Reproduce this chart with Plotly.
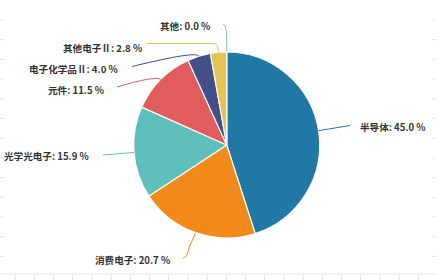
import math
import plotly.graph_objects as go

# Sector shares (%) of the electronics industry
categories = ["半导体", "消费电子", "光学光电子", "元件", "电子化学品Ⅱ", "其他电子Ⅱ", "其他"]
shares = [45.0, 20.7, 15.9, 11.5, 4.0, 2.8, 0.0]
colors = ["#2079a4", "#f28a1b", "#5fbfbd", "#e15c5c", "#434f88", "#e3c457", "#8fb9a8"]

W, H = 436, 280
CX, CY, R = 226.7, 145.0, 93.0

# leader-line end points (px) and label anchors (px) for each slice
line_ends = [(350, 125.5), (183, 258), (103, 155), (117, 87), (132, 66.5), (147, 43.5), (223, 24)]
elbow_extra = [9, 20, 10, 6, 6, 9, 19]
text_pos = [(358, 127.5, "left"), (172, 260, "right"), (91, 156, "right"), (106, 89.5, "right"),
            (120, 68.5, "right"), (144, 47.5, "right"), (212, 26, "right")]

fig = go.Figure()
fig.add_trace(go.Pie(
    labels=categories, values=shares, sort=False, direction="clockwise", rotation=0,
    marker=dict(colors=colors, line=dict(color="#fbfbf5", width=1.2)),
    textinfo="none", hoverinfo="label+percent", showlegend=False,
    domain=dict(x=[(CX - R) / W, (CX + R) / W], y=[(H - CY - R) / H, (H - CY + R) / H]),
))

shapes = []
annotations = []
total = sum(shares)
cum = 0.0
for i, (name, v) in enumerate(zip(categories, shares)):
    mid = (cum + v / 2) / total * 2 * math.pi
    cum += v
    sx, sy = CX + R * math.sin(mid), CY - R * math.cos(mid)
    re = R + elbow_extra[i]
    ex, ey = CX + re * math.sin(mid), CY - re * math.cos(mid)
    lx, ly = line_ends[i]
    if i == 5:
        # vertical rise, rounded turn, then horizontal run
        path = f"M{sx},{sy} L{ex},{ey + 4} Q{ex},{ly} {ex - 5},{ly} L{lx},{ly}"
    elif i == 6:
        path = f"M{sx},{sy} L{ex},{ey + 6} Q{ex},{ly + 1} {lx},{ly}"
    elif i == 1:
        path = f"M{sx},{sy} L{ex},{ey - 4} Q{ex - 2},{ly} {lx},{ly}"
    elif i in (3, 4):
        path = f"M{sx},{sy} Q{ex},{ey} {lx},{ly}"
    else:
        path = f"M{sx},{sy} L{ex},{ey} L{lx},{ly}"
    shapes.append(dict(type="path", path=path, xref="x", yref="y",
                       line=dict(color=colors[i], width=1)))
    tx, ty, anc = text_pos[i]
    annotations.append(dict(
        x=tx / W, y=1 - ty / H, xref="paper", yref="paper", xanchor=anc, yanchor="middle",
        text=f"{name}: {v:.1f} %", showarrow=False,
        font=dict(family="Noto Sans CJK SC", size=9.6, color="#333333", weight="bold"),
    ))

# faint sheet cell borders around the edges
grid = "#e4e4e4"
shapes.append(dict(type="line", x0=0, x1=W, y0=274, y1=274, xref="x", yref="y",
                   line=dict(color=grid, width=1)))
x = 15.0
while x < W:
    shapes.append(dict(type="line", x0=x, x1=x, y0=274, y1=280, xref="x", yref="y",
                       line=dict(color=grid, width=1)))
    x += 19.2
y = 20.0
while y < 272:
    shapes.append(dict(type="line", x0=0, x1=4, y0=y, y1=y, xref="x", yref="y",
                       line=dict(color=grid, width=1)))
    shapes.append(dict(type="line", x0=W - 4, x1=W, y0=y, y1=y, xref="x", yref="y",
                       line=dict(color=grid, width=1)))
    y += 19.7

fig.update_layout(
    width=W, height=H, margin=dict(l=0, r=0, t=0, b=0),
    paper_bgcolor="white", plot_bgcolor="rgba(0,0,0,0)",
    xaxis=dict(range=[0, W], visible=False, fixedrange=True),
    yaxis=dict(range=[H, 0], visible=False, fixedrange=True),
    shapes=shapes, annotations=annotations,
)

fig.write_html("out.html")
